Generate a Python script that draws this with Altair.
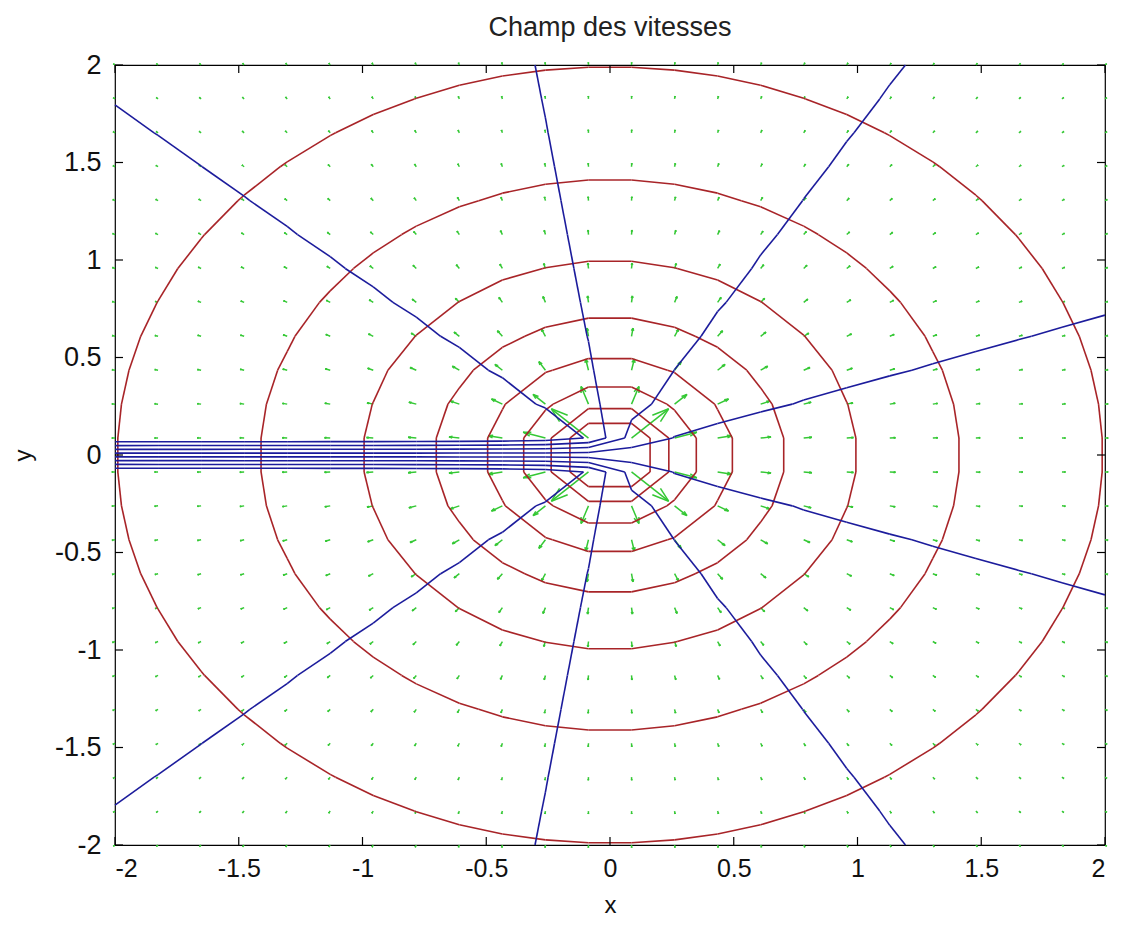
import numpy as np
import pandas as pd
import altair as alt

# ---------------- data ----------------
# 24 x 24 sampling grid (MATLAB linspace(-2,2,24)), used by quiver and contour
GRID = [-2.0, -1.826087, -1.652174, -1.478261, -1.304348, -1.130435,
        -0.956522, -0.782609, -0.608696, -0.434783, -0.260870, -0.086957,
        0.086957, 0.260870, 0.434783, 0.608696, 0.782609, 0.956522,
        1.130435, 1.304348, 1.478261, 1.652174, 1.826087, 2.0]
# radii of the red equipotential contours (phi = ln r)
RED_RADII = [0.174, 0.247, 0.350, 0.496, 0.702, 0.995, 1.410, 1.990]
# angles (degrees) of the blue streamline contours (psi = theta)
BLUE_ANGLES_DEG = [-138.1, -98.6, -59.2, -19.7, 19.7, 59.2, 98.6, 138.1]
X_TICKS = [-2, -1.5, -1, -0.5, 0, 0.5, 1, 1.5, 2]
Y_TICKS = [-2, -1.5, -1, -0.5, 0, 0.5, 1, 1.5, 2]
TITLE = "Champ des vitesses"

# ---------------- field of a point source ----------------
g = np.array(GRID)
X, Y = np.meshgrid(g, g)
R2 = X**2 + Y**2
PHI = 0.5 * np.log(R2)
PSI = np.arctan2(Y, X)
U = X / R2
V = Y / R2


def contour_segments(Z, levels):
    segs = []
    n = len(g)
    for L in levels:
        for j in range(n - 1):
            for i in range(n - 1):
                c = [(g[i], g[j], Z[j, i]), (g[i + 1], g[j], Z[j, i + 1]),
                     (g[i + 1], g[j + 1], Z[j + 1, i + 1]), (g[i], g[j + 1], Z[j + 1, i])]
                pts = []
                for k in range(4):
                    a, b = c[k], c[(k + 1) % 4]
                    if (a[2] >= L) != (b[2] >= L):
                        t = (L - a[2]) / (b[2] - a[2])
                        pts.append((a[0] + t * (b[0] - a[0]), a[1] + t * (b[1] - a[1])))
                if len(pts) == 2:
                    segs.append((pts[0], pts[1]))
                elif len(pts) == 4:
                    centre = np.mean([p[2] for p in c])
                    if (centre >= L) == (c[0][2] >= L):
                        segs += [(pts[0], pts[1]), (pts[2], pts[3])]
                    else:
                        segs += [(pts[0], pts[3]), (pts[1], pts[2])]
    return pd.DataFrame([{"x": a[0], "y": a[1], "x2": b[0], "y2": b[1]} for a, b in segs])


red_df = contour_segments(PHI, [np.log(r) for r in RED_RADII])
blue_df = contour_segments(PSI, [np.deg2rad(a) for a in BLUE_ANGLES_DEG])

# quiver (MATLAB autoscale and arrow heads)
n = len(g)
delx = (g.max() - g.min()) / n
dely = delx
scale = 0.9 / np.max(np.sqrt((U**2 + V**2) / (delx**2 + dely**2)))
u = (U * scale).ravel()
v = (V * scale).ravel()
xs = X.ravel()
ys = Y.ravel()
al, be, eps = 0.33, 0.33, 1e-12
rows = []
for x0, y0, uu, vv in zip(xs, ys, u, v):
    tx, ty = x0 + uu, y0 + vv
    rows.append({"x": x0, "y": y0, "x2": tx, "y2": ty})
    rows.append({"x": tx - al * (uu + be * (vv + eps)), "y": ty - al * (vv - be * (uu + eps)), "x2": tx, "y2": ty})
    rows.append({"x": tx, "y": ty, "x2": tx - al * (uu - be * (vv + eps)), "y2": ty - al * (vv + be * (uu + eps))})
q_df = pd.DataFrame(rows)

FONT = "Liberation Sans"
W, H = 990, 780
xscale = alt.Scale(domain=[-2, 2], nice=False, zero=False)
yscale = alt.Scale(domain=[-2, 2], nice=False, zero=False)
xaxis = alt.Axis(values=X_TICKS, labelExpr="'' + datum.value", labelPadding=11,
                 labelFontSize=25, titlePadding=12)
yaxis = alt.Axis(values=Y_TICKS, labelExpr="'' + datum.value", labelPadding=14,
                 labelFontSize=27, titlePadding=19)
XE = alt.X("x:Q", scale=xscale, axis=xaxis, title="x")
YE = alt.Y("y:Q", scale=yscale, axis=yaxis, title="y")

quiver = alt.Chart(q_df).mark_rule(color="#35c835", strokeWidth=1.5).encode(x=XE, y=YE, x2="x2:Q", y2="y2:Q")
red = alt.Chart(red_df).mark_rule(color="#a82428", strokeWidth=1.6).encode(x=XE, y=YE, x2="x2:Q", y2="y2:Q")
blue = alt.Chart(blue_df).mark_rule(color="#1c1c9c", strokeWidth=1.6).encode(x=XE, y=YE, x2="x2:Q", y2="y2:Q")

xt = pd.DataFrame({"x": X_TICKS})
yt = pd.DataFrame({"y": Y_TICKS})
top_t = alt.Chart(xt).mark_rule(color="black", strokeWidth=1.2).encode(x=XE, y=alt.value(0), y2=alt.value(8))
bot_t = alt.Chart(xt).mark_rule(color="black", strokeWidth=1.2).encode(x=XE, y=alt.value(H), y2=alt.value(H - 8))
left_t = alt.Chart(yt).mark_rule(color="black", strokeWidth=1.2).encode(y=YE, x=alt.value(0), x2=alt.value(8))
right_t = alt.Chart(yt).mark_rule(color="black", strokeWidth=1.2).encode(y=YE, x=alt.value(W), x2=alt.value(W - 8))

chart = alt.layer(quiver, red, blue, top_t, bot_t, left_t, right_t).properties(
    width=W, height=H,
    title=alt.TitleParams(TITLE, font=FONT, fontSize=27, fontWeight="normal", color="#222", offset=9),
    padding={"left": 107, "top": 57, "right": 9, "bottom": 72},
    autosize=alt.AutoSizeParams(type="none"),
).configure_view(stroke="black", strokeWidth=1.2).configure_axis(
    domain=False, ticks=False, grid=False,
    labelFont=FONT, labelColor="#111",
    titleFont=FONT, titleFontSize=24, titleFontWeight="normal", titleColor="#111",
)

chart.save("out.html", embed_options={"renderer": "svg", "actions": False})
